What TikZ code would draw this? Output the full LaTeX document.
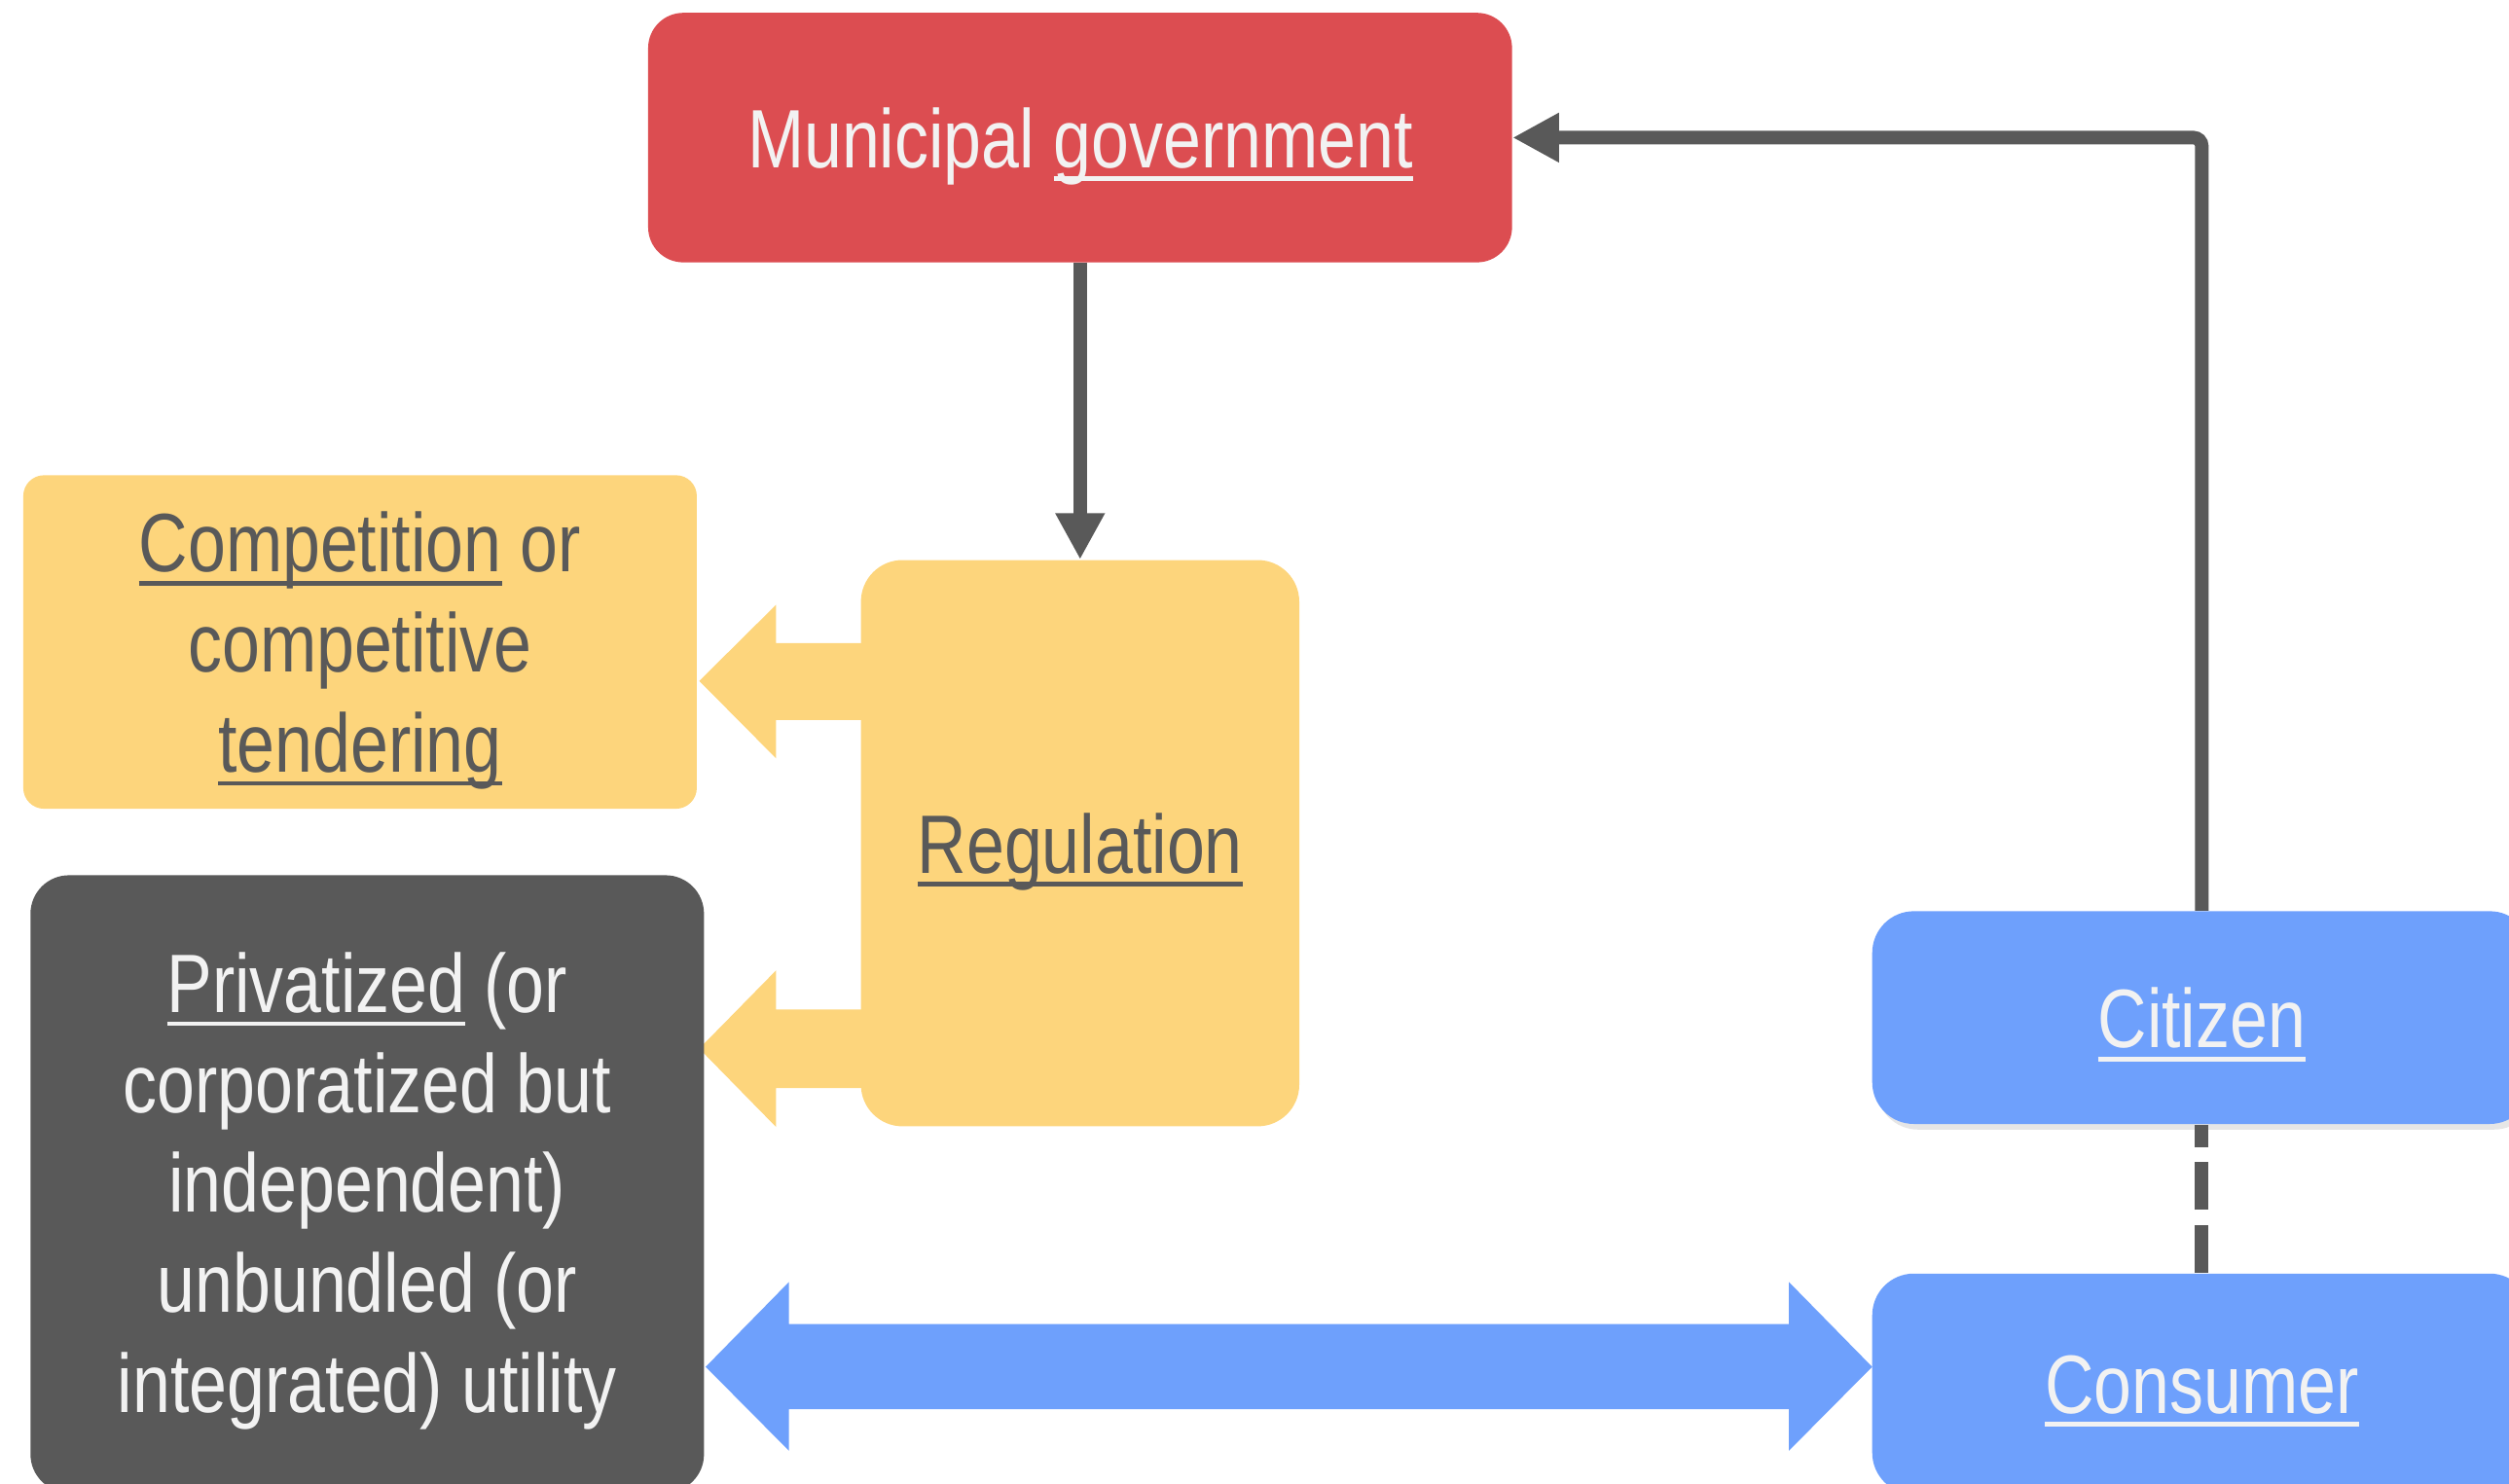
\documentclass[tikz,border=0pt]{standalone}
\usepackage{fontspec}
\setmainfont{Liberation Sans}[FakeStretch=0.82]
\newcommand\ulw[1]{\setbox0\hbox{#1}\rlap{\rule[-4.9pt]{\wd0}{1.7pt}}\box0\relax}
\usetikzlibrary{arrows.meta,shadows}
\definecolor{govred}{HTML}{DC4D51}
\definecolor{yel}{HTML}{FDD57C}
\definecolor{dgray}{HTML}{595959}
\definecolor{blu}{HTML}{6EA0FC}
\definecolor{wtxt}{HTML}{F2F2F2}
\begin{document}
\begin{tikzpicture}[x=0.02cm,y=-0.02cm,
  box/.style={inner sep=0pt},
  txt/.style={inner sep=0pt, align=center, font=\fontsize{29.5pt}{35.6pt}\selectfont},
  conn/.style={draw=dgray, line width=4.8pt},
  tipA/.style={-{Triangle[length=16.5pt,width=16.5pt]}}]
\useasboundingbox (0,0) rectangle (1568,927);
\begin{scope}
\clip (0,0) rectangle (1568,927);
% fat arrows
\coordinate (t1) at (437,425.6);
\coordinate (t2) at (437,655.4);
\fill[yel] (t1) -- ++(48,-47.6) -- ++(0,24) -- ++(80,0) -- ++(0,48) -- ++(-80,0) -- ++(0,24) -- cycle;
\fill[yel] (t2) -- ++(48,-48.9) -- ++(0,24.5) -- ++(80,0) -- ++(0,49) -- ++(-80,0) -- ++(0,24.4) -- cycle;
\coordinate (bl) at (441,854.3);
\coordinate (br) at (1170,854.3);
\fill[blu] (bl) -- ++(52,-53) -- ++(0,26.2) -- (1118,827.5) -- (1118,801.3) -- (br) -- (1118,906.7) -- (1118,880.7) -- (493,880.7) -- (493,906.7) -- cycle;
% boxes
\node[box, fill=govred, rounded corners=12.5pt, minimum width=10.8cm, minimum height=3.12cm] (gov) at (675,86) {};
\node[box, fill=yel, rounded corners=14.8pt, minimum width=5.48cm, minimum height=7.08cm] (reg) at (675,527) {};
\node[box, fill=yel, rounded corners=7.4pt, minimum width=8.42cm, minimum height=4.17cm] (comp) at (225,401.25) {};
\node[box, fill=dgray, rounded corners=13.7pt, minimum width=8.42cm, minimum height=7.72cm] (util) at (229.5,740) {};
\node[box, fill=blu, rounded corners=14.8pt, minimum width=8.24cm, minimum height=2.66cm, drop shadow={shadow xshift=1.5pt, shadow yshift=-2pt, opacity=0.2}] (cit) at (1376,636) {};
\node[box, fill=blu, rounded corners=14.8pt, minimum width=8.24cm, minimum height=2.76cm] (cons) at (1376,865) {};
% texts
\node[txt, text=wtxt] (govt) at ([yshift=-3pt]gov.center) {Municipal \ulw{government}};
\node[txt, text=dgray] (regt) at ([yshift=-3pt]reg.center) {\ulw{Regulation}};
\node[txt, text=dgray] (compt) at ([yshift=-3pt]comp.center) {\ulw{Competition} or\\competitive\\\ulw{tendering}};
\node[txt, text=wtxt] (utilt) at ([yshift=-2.5pt]util.center) {\ulw{Privatized} (or\\corporatized but\\independent)\\unbundled (or\\integrated) utility};
\node[txt, text=wtxt] (citt) at ([yshift=-2.5pt]cit.center) {\ulw{Citizen}};
\node[txt, text=wtxt] (const) at ([yshift=-2.5pt]cons.center) {\ulw{Consumer}};
% connectors
\draw[conn, tipA] (gov.south) -- (reg.north);
\draw[conn, tipA, rounded corners=3pt] (cit.north) |- (gov.east);
\draw[conn, dash pattern=on 17pt off 5.4pt] (cons.north) -- (cit.south);
\end{scope}
\end{tikzpicture}
\end{document}
